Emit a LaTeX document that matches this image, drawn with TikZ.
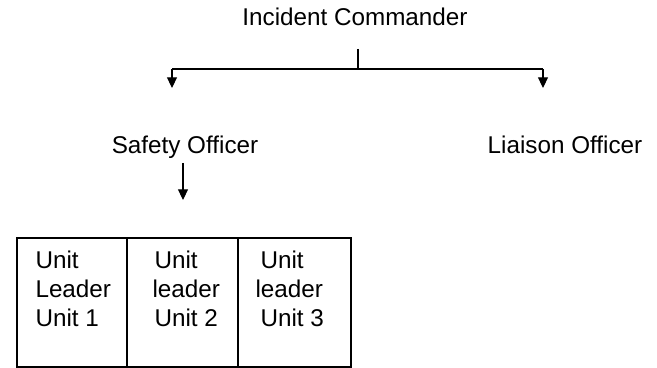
\documentclass[tikz,border=0pt]{standalone}
\usepackage{fontspec}
\setmainfont{Liberation Sans}
\usetikzlibrary{arrows.meta}

\begin{document}
\begin{tikzpicture}[x=0.02cm,y=-0.02cm,line width=0.6pt,
  lbl/.style={font=\fontsize{13.8}{16}\selectfont,inner sep=0pt,anchor=base},
  cell/.style={font=\fontsize{13.8}{16}\selectfont,inner sep=0pt,anchor=base west},
  down/.style={-{Triangle[width=5.6pt,length=6pt]}}]
\useasboundingbox (0,0) rectangle (657,368);
% top: commander and the bar below
\node[lbl] (cmd) at (355,26) {Incident Commander};
\coordinate (stem) at (358,49);
\coordinate (bar) at (358,69);
\coordinate (barL) at (172,69);
\coordinate (barR) at (543,69);
\coordinate (tipL) at (172,88);
\coordinate (tipR) at (543,88);
\draw (stem) -- (bar);
\draw (barL) -- (barR);
\draw[down] (barL) -- (tipL);
\draw[down] (barR) -- (tipR);
% officers
\node[lbl] (safety) at (185,154) {Safety Officer};
\node[lbl] (liaison) at (565,154) {Liaison Officer};
\coordinate (sTop) at (183,163);
\coordinate (sTip) at (183,200);
\draw[down] (sTop) -- (sTip);
% unit leaders table
\draw (17,238) rectangle (127,367);
\draw (127,238) rectangle (238,367);
\draw (238,238) rectangle (351,367);
\node[cell] (u1a) at (35,269) {Unit};
\node[cell] (u1b) at (35,298) {Leader};
\node[cell] (u1c) at (35,327) {Unit 1};
\node[cell] (u2a) at (154,269) {Unit};
\node[cell] (u2b) at (152,298) {leader};
\node[cell] (u2c) at (154,327) {Unit 2};
\node[cell] (u3a) at (260,269) {Unit};
\node[cell] (u3b) at (255,298) {leader};
\node[cell] (u3c) at (260,327) {Unit 3};
\end{tikzpicture}
\end{document}
